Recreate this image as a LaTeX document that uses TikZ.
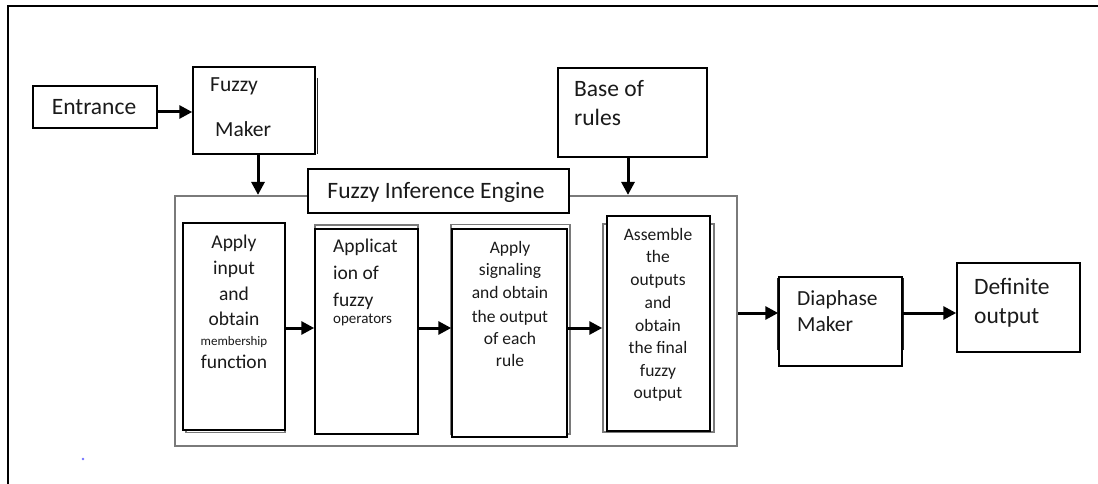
\documentclass[tikz,border=0pt]{standalone}
\usepackage{fontspec}
\setmainfont{Carlito}
\usetikzlibrary{arrows.meta}
\definecolor{txt}{HTML}{1A1A1A}
\definecolor{shade}{HTML}{7A7A7A}
\begin{document}
\begin{tikzpicture}[x=1pt,y=-1pt,
  box/.style={draw=black, line width=1.5pt, fill=white, inner sep=0pt, rectangle},
  shd/.style={draw=shade, line width=1.6pt},
  arr/.style={line width=3pt, -{Triangle[length=13pt,width=13pt]}},
  lbl/.style={text=txt, inner sep=0pt, anchor=base},
  lblw/.style={text=txt, inner sep=0pt, anchor=base west},
  fbig/.style={font=\fontsize{23.5}{28}\selectfont},
  fmid/.style={font=\fontsize{21.5}{26}\selectfont},
  fbox/.style={font=\fontsize{19.5}{24}\selectfont},
  fsm/.style={font=\fontsize{17.5}{22}\selectfont}]
\useasboundingbox (0,0) rectangle (1098,484);
% outer frame
\draw[line width=2.5pt] (8,490) -- (8,6) -- (1104,6);
% inference engine frame
\node[draw=shade, line width=2.2pt, fill=white, inner sep=0pt, minimum width=562pt, minimum height=250pt] (eng) at (456,321) {};
\node[box, minimum width=261pt, minimum height=44pt] (fie) at (438.5,191) {};
\node[lbl, fbig] (fiet) at (436,198) {Fuzzy Inference Engine};
% top boxes
\node[box, minimum width=124pt, minimum height=42pt] (entr) at (95,107) {};
\node[lbl, fbig] (entrt) at (94,115) {Entrance};
\draw[line width=1.5pt, draw=black!85] (317.5,78) -- (317.5,154);
\node[box, minimum width=122pt, minimum height=87pt] (fm) at (254,110.5) {};
\node[lblw, fmid] (fm1) at (210,92) {Fuzzy};
\node[lblw, fmid] (fm2) at (215,137) {Maker};
\node[box, minimum width=149pt, minimum height=89pt] (base) at (632.5,112.5) {};
\node[lblw, fbig] (base1) at (574,97) {Base of};
\node[lblw, fbig] (base2) at (574,126) {rules};
% shadows of inner boxes
\draw[shd] (186,227) rectangle (285,432.5);
\draw[shd] (315,225) rectangle (418,432);
\draw[shd] (451,224.5) rectangle (570,434);
\draw[shd] (603,224) rectangle (714,432);
% inner boxes
\node[box, minimum width=102pt, minimum height=207pt] (b1) at (234,326.5) {};
\node[box, minimum width=103pt, minimum height=205pt] (b2) at (366.5,331.5) {};
\node[box, minimum width=115pt, minimum height=208pt] (b3) at (509.5,333) {};
\node[box, minimum width=103pt, minimum height=215pt] (b4) at (658.5,323.5) {};
\foreach \s/\yy [count=\i] in {Apply/248,input/274,and/300,obtain/325,{\fontsize{13}{13}\selectfont membership}/345,function/368}
  \node[lbl, fbox] (ta\i) at (234,\yy) {\s};
\foreach \s/\yy [count=\i] in {Applicat/252,ion of/279,fuzzy/306,{\fontsize{15}{15}\selectfont operators}/323}
  \node[lblw, fbox] (tb\i) at (333,\yy) {\s};
\foreach \s/\yy [count=\i] in {Apply/253,signaling/275,and obtain/298,the output/322,of each/344,rule/366}
  \node[lbl, fsm] (tc\i) at (510,\yy) {\s};
\foreach \s/\yy [count=\i] in {Assemble/240,the/262,outputs/285,and/308,obtain/331,the final/353,fuzzy/376,output/398}
  \node[lbl, fsm] (td\i) at (658,\yy) {\s};
% right boxes
\draw[line width=1.5pt, draw=black!85] (777.5,278) -- (777.5,350) (903.5,278) -- (903.5,350);
\node[box, minimum width=123pt, minimum height=89pt] (dia) at (840.5,321.5) {};
\node[lblw, fmid] (dia1) at (797,305) {Diaphase};
\node[lblw, fmid] (dia2) at (797,331) {Maker};
\node[box, minimum width=123pt, minimum height=89pt] (def) at (1018.5,307.5) {};
\node[lblw, fbig] (def1) at (974,294) {Definite};
\node[lblw, fbig] (def2) at (974,323) {output};
% connectors
\coordinate (ya) at (0,112);
\coordinate (yb) at (0,328);
\coordinate (yc) at (0,313);
\coordinate (xa) at (258,0);
\coordinate (xb) at (628,0);
\draw[arr] (entr.east |- ya) -- (fm.west |- ya);
\draw[arr] (xa |- fm.south) -- (xa |- eng.north);
\draw[arr] (xb |- base.south) -- (xb |- eng.north);
\draw[arr] (b1.east |- yb) -- (b2.west |- yb);
\draw[arr] (b2.east |- yb) -- (b3.west |- yb);
\draw[arr] (b3.east |- yb) -- ([xshift=-4pt]b4.west |- yb);
\draw[arr] (eng.east |- yc) -- (dia.west |- yc);
\draw[arr] (dia.east |- yc) -- (def.west |- yc);
% stray dot
\fill[blue!55] (83,459) circle (1.3);
\end{tikzpicture}
\end{document}
